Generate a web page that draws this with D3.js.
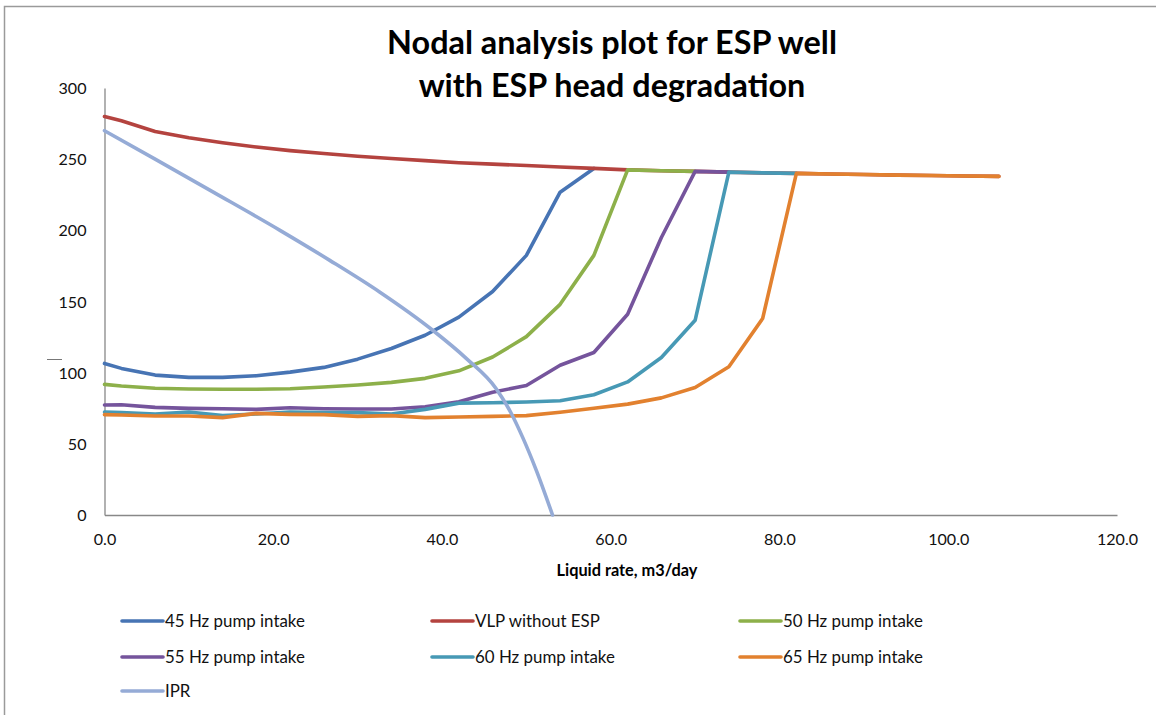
<!DOCTYPE html>
<html><head><meta charset="utf-8">
<script src="https://cdn.jsdelivr.net/npm/d3@7"></script>
<style>body{margin:0;background:#fff;} svg{display:block;}</style>
</head><body>
<svg id="c" width="1156" height="715"></svg>
<script>
// ---- data ----
const rates = [0,2,6,10,14,18,22,26,30,34,38,42,46,50,54,58,62,66,70,74,78,82,86,90,94,98,102,106];
const vlp   = [280,277,269.5,265,261.5,258.5,256,254,252,250.5,249,247.5,246.5,245.5,244.5,243.5,242.5,241.9,241.4,240.9,240.4,240,239.6,239.2,238.8,238.5,238.2,237.9];
const hz45  = [106.5,103,98.3,96.7,96.7,97.8,100.4,103.7,109.5,117,126.3,139,157,182.4,226.8,243.5];
const hz50  = [91.8,90.6,89,88.5,88.3,88.3,88.7,89.9,91.3,93.2,96,101.3,111,125.3,148,182.4,242.5,241.9,241.4];
const hz55  = [77.3,77.5,75.6,74.9,74.7,74.2,75.4,74.7,74.5,74.5,76.1,79.6,86.3,91,105.2,114.2,141,195,241.4,240.9];
const hz60  = [72.4,71.9,71,72.4,69.8,71,72.4,71.9,71.9,71,74.2,78.6,78.9,79.4,80.3,84.5,93.5,110.6,136.8,240.9,240.4,240];
const hz65  = [70.5,70.3,69.6,69.6,68.4,71.4,70.7,70.5,69.3,69.8,68.4,68.9,69.3,69.8,72.2,75,77.9,82.3,89.6,104.1,138,240,239.6,239.2,238.8,238.5,238.2,237.9];
const iprRate  = [0,6,13,20.8,26.7,32.6,38.9,42.9,46.4,48.2,49.6,51.2,53.1];
const iprPress = [270,250,226.5,200,178.9,156.7,129.8,109.9,88.9,71.5,54,31,0];
const xTicks = [0,20,40,60,80,100,120];
const yTicks = [0,50,100,150,200,250,300];
const seriesNames = ["45 Hz pump intake","VLP without ESP","50 Hz pump intake","55 Hz pump intake","60 Hz pump intake","65 Hz pump intake","IPR"];
const colors = ["#4774B4","#B4433F","#8DB04A","#75549C","#4799B5","#E2812F","#95ABD6"];
const titleLines = ["Nodal analysis plot for ESP well","with ESP head degradation"];
const xTitle = "Liquid rate, m3/day";

const svg = d3.select("#c");
const FONT = "Lato, 'Open Sans', sans-serif";

// frame
svg.append("rect").attr("x",4.5).attr("y",6.5).attr("width",1300).attr("height",900)
  .attr("fill","none").attr("stroke","#9a9a9a").attr("stroke-width",1.5);

const x = d3.scaleLinear().domain([0,120]).range([104.5,1117]);
const y = d3.scaleLinear().domain([0,300]).range([515,88]);

function fit(sel, target){
  const n = sel.node(); let fs = parseFloat(sel.attr("font-size"));
  const w = n.getComputedTextLength();
  if (w>0) sel.attr("font-size", (fs*target/w).toFixed(2));
}

// axes
const xAxis = svg.append("g").attr("transform","translate(0,515)")
  .call(d3.axisBottom(x).tickValues(xTicks).tickSize(0).tickPadding(0).tickFormat(d3.format(".1f")));
const yAxis = svg.append("g").attr("transform","translate(104.5,0)")
  .call(d3.axisLeft(y).tickValues(yTicks).tickSize(0).tickPadding(0).tickFormat(d3.format("d")));
[xAxis,yAxis].forEach(g=>{
  g.select(".domain").attr("stroke","#888").attr("stroke-width",1.3);
  g.selectAll("text").attr("font-family",FONT).attr("fill","#111").attr("font-size",17);
});
xAxis.selectAll("text").attr("y",30).attr("dy",0);
yAxis.selectAll("text").attr("x",-18).attr("dy","0.35em");
// fit tick label size to reference width
const t300 = yAxis.selectAll("text").filter(d=>d===300);
const tmp = 17; const w300 = t300.node().getComputedTextLength();
const tickFs = tmp*28/w300;
xAxis.selectAll("text").attr("font-size",tickFs);
yAxis.selectAll("text").attr("font-size",tickFs);

// tiny collapsed y title artifact
svg.append("line").attr("x1",47).attr("x2",62).attr("y1",359.5).attr("y2",359.5)
  .attr("stroke","#777").attr("stroke-width",1);

// lines
const line = d3.line().x(d=>x(d[0])).y(d=>y(d[1]));
const pump = [hz45,vlp,hz50,hz55,hz60,hz65];
pump.forEach((vals,i)=>{
  const pts = vals.map((v,j)=>[rates[j],v]);
  svg.append("path").attr("d",line(pts)).attr("fill","none")
    .attr("stroke",colors[i]).attr("stroke-width",3.6).attr("stroke-linejoin","round").attr("stroke-linecap","round");
});
const iprPts = iprRate.map((r,j)=>[r,iprPress[j]]);
svg.append("path").attr("d",d3.line().x(d=>x(d[0])).y(d=>y(d[1])).curve(d3.curveMonotoneX)(iprPts))
  .attr("fill","none").attr("stroke",colors[6]).attr("stroke-width",3.6).attr("stroke-linecap","round");

// title
const tTargets = [[612,54,450],[612,97,387]];
titleLines.forEach((s,i)=>{
  const t = svg.append("text").attr("x",tTargets[i][0]).attr("y",tTargets[i][1])
    .attr("text-anchor","middle").attr("font-family",FONT).attr("font-weight","bold")
    .attr("font-size",30).attr("fill","#000").text(s);
  fit(t,tTargets[i][2]);
});

// x axis title
const xt = svg.append("text").attr("x",627).attr("y",576).attr("text-anchor","middle")
  .attr("font-family",FONT).attr("font-weight","bold").attr("font-size",14).attr("fill","#000").text(xTitle);
fit(xt,141);

// legend
const legPos = [[122,621],[432,621],[740,621],[122,657],[432,657],[740,657],[122,691]];
let legFs = null;
seriesNames.forEach((s,i)=>{
  const [lx,ly] = legPos[i];
  svg.append("line").attr("x1",lx).attr("x2",lx+41).attr("y1",ly).attr("y2",ly)
    .attr("stroke",colors[i]).attr("stroke-width",3.6).attr("stroke-linecap","round");
  const t = svg.append("text").attr("x",lx+43).attr("y",ly).attr("dy","0.35em")
    .attr("font-family",FONT).attr("font-size",16).attr("fill","#111").text(s);
  if (i===0){ fit(t,140); legFs = t.attr("font-size"); } else t.attr("font-size",legFs);
});
</script>
</body></html>
